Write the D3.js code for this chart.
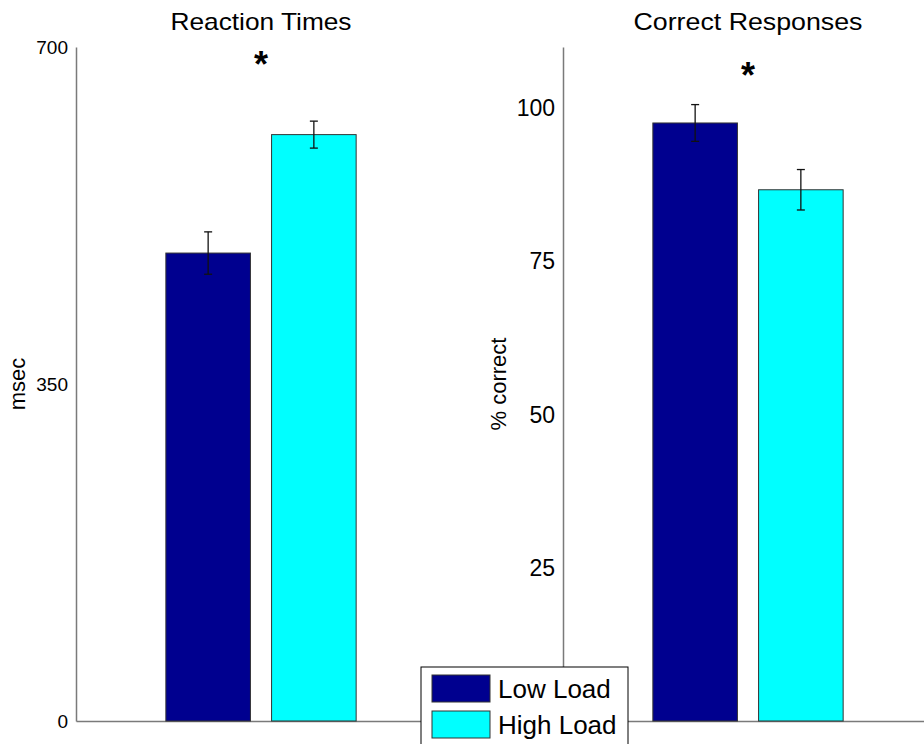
<!DOCTYPE html>
<html>
<head>
<meta charset="utf-8">
<script src="https://cdn.jsdelivr.net/npm/d3@7"></script>
<style>
	body { margin: 0; background: #fff; }
	svg { display: block; font-family: 'Liberation Sans', Arial, sans-serif; }
</style>
</head>
<body>
<div id="viz"></div>
<script>
// values
const conditions = ['Low Load', 'High Load']
const condition_colors = ['#00008f', '#00ffff']

const rt_means = [486, 609]
const rt_errors = [22, 14]
const rt_ticks = [0, 350, 700]

const acc_means = [97.6, 86.7]
const acc_errors = [3.0, 3.3]
const acc_ticks = [25, 50, 75, 100]

const WIDTH = 924
const HEIGHT = 744
const TOP = 47
const BOTTOM = 721
const PANEL_W = 370

const svg = d3
	.select('#viz')
	.append('svg')
	.attr('width', WIDTH)
	.attr('height', HEIGHT)

const panels = [
	{
		left: 76,
		title: 'Reaction Times',
		title_len: 181,
		ylabel: 'msec',
		ylabel_size: 22,
		ylabel_x: 25,
		tick_size: 19,
		means: rt_means,
		errors: rt_errors,
		ticks: rt_ticks,
		max: 700,
		star_y: 77,
	},
	{
		left: 563,
		title: 'Correct Responses',
		title_len: 229,
		ylabel: '% correct',
		ylabel_size: 22,
		ylabel_x: 506,
		tick_size: 23,
		means: acc_means,
		errors: acc_errors,
		ticks: acc_ticks,
		max: 110,
		star_y: 88,
	},
]

panels.forEach((p) => {
	const g = svg.append('g')

	const x = d3
		.scaleBand()
		.domain(conditions)
		.range([p.left, p.left + PANEL_W])
		.paddingInner(0.2)
		.paddingOuter(0.85)

	const y = d3.scaleLinear().domain([0, p.max]).range([BOTTOM, TOP])

	const color = d3.scaleOrdinal().domain(conditions).range(condition_colors)

	const cx = p.left + PANEL_W / 2

	// x axis: plain baseline
	const xaxis = g
		.append('g')
		.attr('transform', `translate(0,${BOTTOM})`)
		.call(
			d3
				.axisBottom(d3.scaleLinear().range([p.left, p.left + PANEL_W]))
				.tickValues([])
				.tickSizeOuter(0)
		)
	xaxis.select('.domain').attr('stroke', '#7a7a7a').attr('stroke-width', 1.5)

	// y axis
	const yaxis = g
		.append('g')
		.attr('transform', `translate(${p.left},0)`)
		.call(
			d3
				.axisLeft(y)
				.tickValues(p.ticks)
				.tickSize(0)
				.tickPadding(8)
				.tickFormat(d3.format('d'))
		)
	yaxis.select('.domain').attr('stroke', '#7a7a7a').attr('stroke-width', 1.5)
	yaxis
		.selectAll('text')
		.attr('fill', '#000')
		.style('font-size', p.tick_size + 'px')
		.style('font-family', "'Liberation Sans', Arial, sans-serif")

	const data = conditions.map((c, i) => ({
		name: c,
		mean: p.means[i],
		err: p.errors[i],
	}))

	// bars
	g.selectAll('rect.bar')
		.data(data)
		.enter()
		.append('rect')
		.attr('class', 'bar')
		.attr('x', (d) => x(d.name))
		.attr('y', (d) => y(d.mean))
		.attr('width', x.bandwidth())
		.attr('height', (d) => y(0) - y(d.mean))
		.attr('fill', (d) => color(d.name))
		.attr('stroke', '#333')
		.attr('stroke-width', 1)

	// error bars
	const eb = g
		.selectAll('g.err')
		.data(data)
		.enter()
		.append('g')
		.attr('class', 'err')
		.attr('stroke', '#111')
		.attr('stroke-width', 1.3)
	eb.append('line')
		.attr('x1', (d) => x(d.name) + x.bandwidth() / 2)
		.attr('x2', (d) => x(d.name) + x.bandwidth() / 2)
		.attr('y1', (d) => y(d.mean - d.err))
		.attr('y2', (d) => y(d.mean + d.err))
	;[-1, 1].forEach((s) => {
		eb.append('line')
			.attr('x1', (d) => x(d.name) + x.bandwidth() / 2 - 4)
			.attr('x2', (d) => x(d.name) + x.bandwidth() / 2 + 4)
			.attr('y1', (d) => y(d.mean + s * d.err))
			.attr('y2', (d) => y(d.mean + s * d.err))
	})

	// title
	g.append('text')
		.attr('x', cx)
		.attr('y', 30)
		.attr('text-anchor', 'middle')
		.attr('textLength', p.title_len)
		.attr('lengthAdjust', 'spacingAndGlyphs')
		.style('font-size', '24px')
		.text(p.title)

	// significance star
	g.append('text')
		.attr('x', cx)
		.attr('y', p.star_y)
		.attr('text-anchor', 'middle')
		.style('font-size', '36px')
		.style('font-weight', 'bold')
		.text('*')

	// y label
	g.append('text')
		.attr(
			'transform',
			`translate(${p.ylabel_x},${(TOP + BOTTOM) / 2}) rotate(-90)`
		)
		.attr('text-anchor', 'middle')
		.style('font-size', p.ylabel_size + 'px')
		.text(p.ylabel)
})

// legend
const legend = svg.append('g').attr('transform', 'translate(421,667)')
legend
	.append('rect')
	.attr('width', 207)
	.attr('height', 100)
	.attr('fill', '#fff')
	.attr('stroke', '#000')
	.attr('stroke-width', 1)

const items = legend
	.selectAll('g.item')
	.data(conditions)
	.enter()
	.append('g')
	.attr('class', 'item')
	.attr('transform', (d, i) => `translate(11,${8 + i * 36})`)

items
	.append('rect')
	.attr('width', 58)
	.attr('height', 27)
	.attr('fill', (d, i) => condition_colors[i])
	.attr('stroke', '#333')

items
	.append('text')
	.attr('x', 66)
	.attr('y', 23)
	.style('font-size', '26px')
	.text((d) => d)
</script>
</body>
</html>
